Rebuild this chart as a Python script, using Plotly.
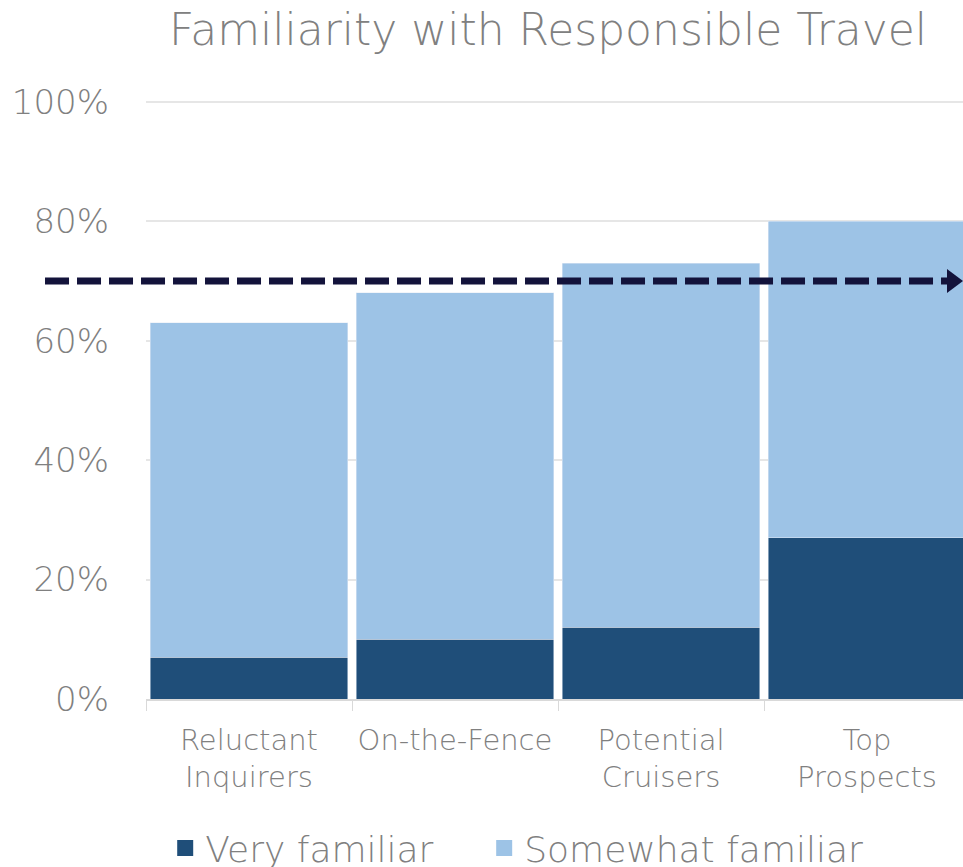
import plotly.graph_objects as go

categories = ["Reluctant<br>Inquirers", "On-the-Fence", "Potential<br>Cruisers", "Top<br>Prospects"]
very_familiar = [7, 10, 12, 27]
somewhat_familiar = [56, 58, 61, 53]
benchmark = 70
y_ticks = [0, 20, 40, 60, 80, 100]
y_tick_labels = ["0%", "20%", "40%", "60%", "80%", "100%"]
series_names = ["Very familiar", "Somewhat familiar"]

DARK = "#1F4E79"
LIGHT = "#9DC3E6"
GRAY = "#808080"
ARROW = "#13133B"
FONT = "DejaVu Sans"
PAD = "\u00a0" * 4  # spacing between legend entries

fig = go.Figure()
fig.add_trace(go.Bar(x=categories, y=very_familiar, marker_color=DARK, showlegend=False,
                     name=series_names[0]))
fig.add_trace(go.Bar(x=categories, y=somewhat_familiar, marker_color=LIGHT, showlegend=False,
                     name=series_names[1]))
# legend entries with larger square markers
fig.add_trace(go.Scatter(x=[None], y=[None], mode="markers", name=series_names[0] + PAD,
                         marker=dict(symbol="square", size=23, color=DARK)))
fig.add_trace(go.Scatter(x=[None], y=[None], mode="markers", name=series_names[1],
                         marker=dict(symbol="square", size=23, color=LIGHT)))

# dashed benchmark arrow
fig.add_shape(type="line", xref="paper", yref="y", x0=-0.1236, x1=0.985, y0=benchmark, y1=benchmark,
              line=dict(color=ARROW, width=7, dash="24px,8px"))
fig.add_shape(type="path", xref="paper", yref="y",
              path=f"M 0.9804,{benchmark + 2.0} L 1.0,{benchmark} L 0.9804,{benchmark - 2.0} Z",
              fillcolor=ARROW, line=dict(color=ARROW, width=0))

fig.update_layout(
    width=963, height=867,
    margin=dict(l=146, r=0, t=100, b=168),
    paper_bgcolor="white", plot_bgcolor="white",
    barmode="stack", bargap=0.04,
    font=dict(family=FONT, color=GRAY, weight=300),
    title=dict(text="Familiarity with Responsible Travel", x=548/963, xanchor="center",
               xref="container", y=1 - 14/867, yanchor="top", yref="container",
               font=dict(size=44, color=GRAY, family=FONT, weight=300)),
    legend=dict(orientation="h", traceorder="normal", x=0.0235, xanchor="left",
                y=(867 - 818) / 867, yanchor="top", yref="container",
                font=dict(size=36, color=GRAY, family=FONT, weight=300), itemwidth=30,
                bgcolor="rgba(0,0,0,0)"),
    xaxis=dict(range=[-0.5, 3.466], tickson="boundaries", ticks="outside", ticklen=10,
               tickcolor="#D9D9D9", showline=True, linecolor="#D9D9D9", linewidth=1.5,
               tickfont=dict(size=29, color=GRAY, family=FONT, weight=300), showgrid=False,
               ticklabelstandoff=14, fixedrange=True),
    yaxis=dict(range=[0, 100.3], tickvals=y_ticks, ticktext=y_tick_labels,
               tickfont=dict(size=34, color=GRAY, family=FONT, weight=300), gridcolor="#E6E6E6",
               gridwidth=1.5, zeroline=False, showline=False, ticklabelstandoff=36,
               fixedrange=True),
)

fig.write_html("out.html", config={"displayModeBar": False},
               post_script="document.body.style.margin='0';document.body.style.overflow='hidden';")
